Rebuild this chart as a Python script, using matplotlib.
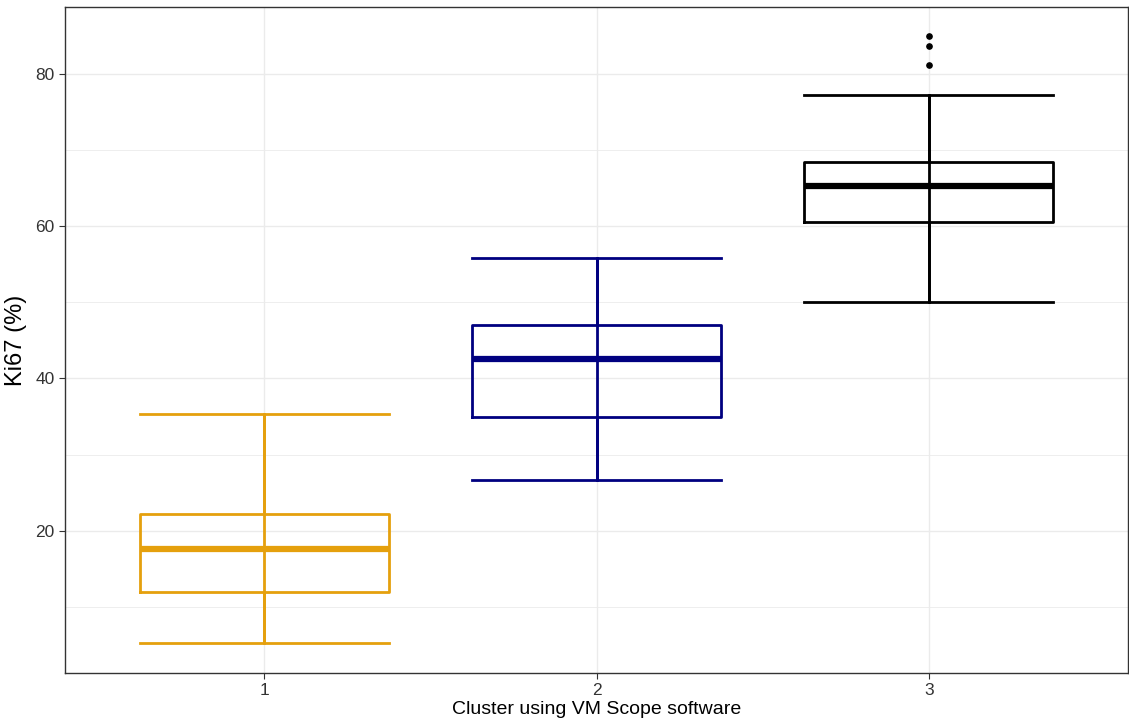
import matplotlib.pyplot as plt
from matplotlib.ticker import MultipleLocator

plt.rcParams["font.family"] = ["Liberation Sans", "DejaVu Sans"]

clusters = ["1", "2", "3"]
colors = ["#E5A00D", "#000080", "#000000"]
whislo = [5.3, 26.6, 50.0]
q1 = [12.0, 34.9, 60.5]
med = [17.6, 42.5, 65.3]
q3 = [22.2, 47.0, 68.4]
whishi = [35.3, 55.8, 77.2]
outliers = [[], [], [81.2, 83.7, 85.0]]

fig = plt.figure(figsize=(11.29, 7.28), dpi=100)
ax = fig.add_axes([0.0576, 0.0755, 0.9415, 0.915])

for i, name in enumerate(clusters):
    stats = [{
        "label": name, "whislo": whislo[i], "q1": q1[i], "med": med[i],
        "q3": q3[i], "whishi": whishi[i], "fliers": outliers[i],
    }]
    c = colors[i]
    ax.bxp(stats, positions=[i + 1], widths=0.75, capwidths=0.75,
           boxprops=dict(color=c, linewidth=2),
           whiskerprops=dict(color=c, linewidth=2),
           capprops=dict(color=c, linewidth=2),
           medianprops=dict(color=c, linewidth=4.5, solid_capstyle="butt"),
           flierprops=dict(marker="o", markerfacecolor=c, markeredgecolor=c,
                           markersize=3.8),
           zorder=3)
    # error bar drawn over the box, so the vertical line runs through it
    ax.vlines(i + 1, whislo[i], whishi[i], color=c, linewidth=2, zorder=3)

ax.set_xlim(0.4, 3.6)
ax.set_ylim(1.3, 88.8)
ax.set_xticks([1, 2, 3])
ax.set_xticklabels(clusters)
ax.yaxis.set_major_locator(MultipleLocator(20))
ax.yaxis.set_minor_locator(MultipleLocator(10))
ax.set_yticks([20, 40, 60, 80])

ax.grid(True, which="major", color="#EBEBEB", linewidth=1, zorder=0)
ax.grid(True, which="minor", axis="y", color="#EBEBEB", linewidth=0.6, zorder=0)
ax.set_axisbelow(True)
ax.tick_params(axis="both", which="major", labelsize=12.5, colors="#333333",
               length=4, width=0.8, labelcolor="#333333")
ax.tick_params(axis="y", which="minor", length=0)
for s in ax.spines.values():
    s.set_color("#333333")
    s.set_linewidth(1)

ax.set_xlabel("Cluster using VM Scope software", fontsize=14, labelpad=2)
ax.set_ylabel("Ki67 (%)", fontsize=17, labelpad=6)

fig.savefig("out.png", dpi=100)
